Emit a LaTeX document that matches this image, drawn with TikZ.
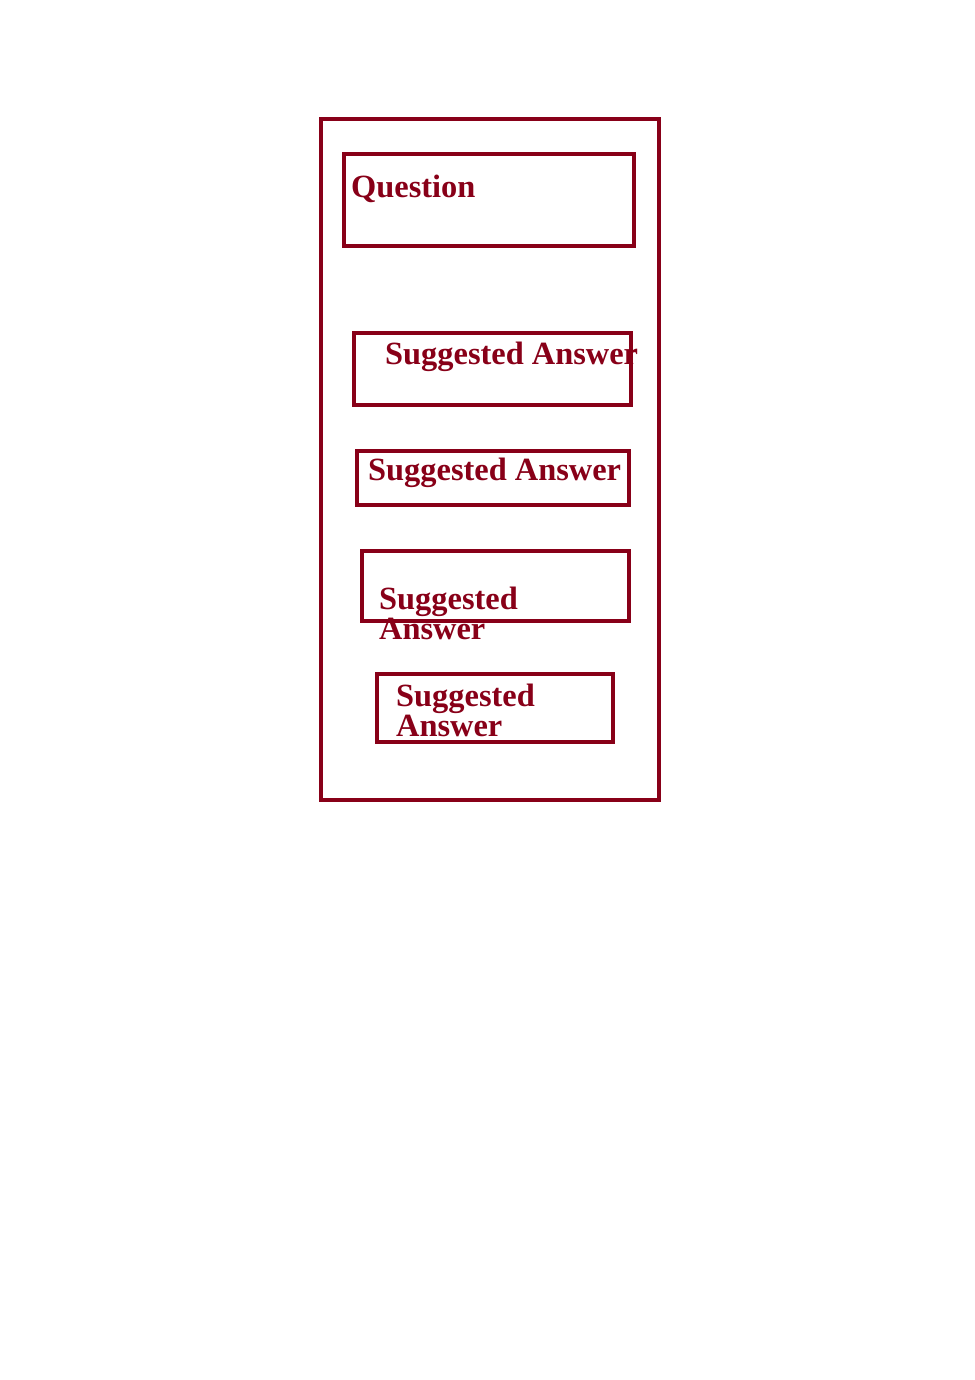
\documentclass[tikz,border=0pt]{standalone}
\usepackage{fontspec}
\setmainfont{Liberation Serif}
\usetikzlibrary{calc}
\definecolor{qred}{RGB}{136,0,24}

\begin{document}
\begin{tikzpicture}[
        x=1pt, y=-1pt,
        panel/.style={draw=qred, line width=4.5pt, rectangle, inner sep=0pt},
        answer label/.style={anchor=base west, inner sep=0pt, text=qred, align=left,
            font=\fontsize{32.4}{30}\selectfont\bfseries}
    ]
    \useasboundingbox (0,0) rectangle (974,1380);

    % outer frame and question box
    \node[panel, minimum width=338pt, minimum height=681pt] (frame) at (490,459.5) {};
    \node[panel, minimum width=290pt, minimum height=92pt] (question) at (489,200) {};

    % suggested answer boxes
    \node[panel, minimum width=277pt, minimum height=72pt] (ans1) at (492.5,369) {};
    \node[panel, minimum width=272pt, minimum height=54pt] (ans2) at (493,478) {};
    \node[panel, minimum width=267pt, minimum height=70pt] (ans3) at (495.5,586) {};
    \node[panel, minimum width=236pt, minimum height=68pt] (ans4) at (495,708) {};

    % labels (base of a two-line label is its last line)
    \node[answer label] (question text) at (351,198) {Question};
    \node[answer label] (ans1 text) at (385,364) {Suggested Answer};
    \node[answer label] (ans2 text) at (368,480) {Suggested Answer};
    \node[answer label] (ans3 text) at (379,639) {Suggested\\Answer};
    \node[answer label] (ans4 text) at (396,736) {Suggested\\Answer};
\end{tikzpicture}
\end{document}
